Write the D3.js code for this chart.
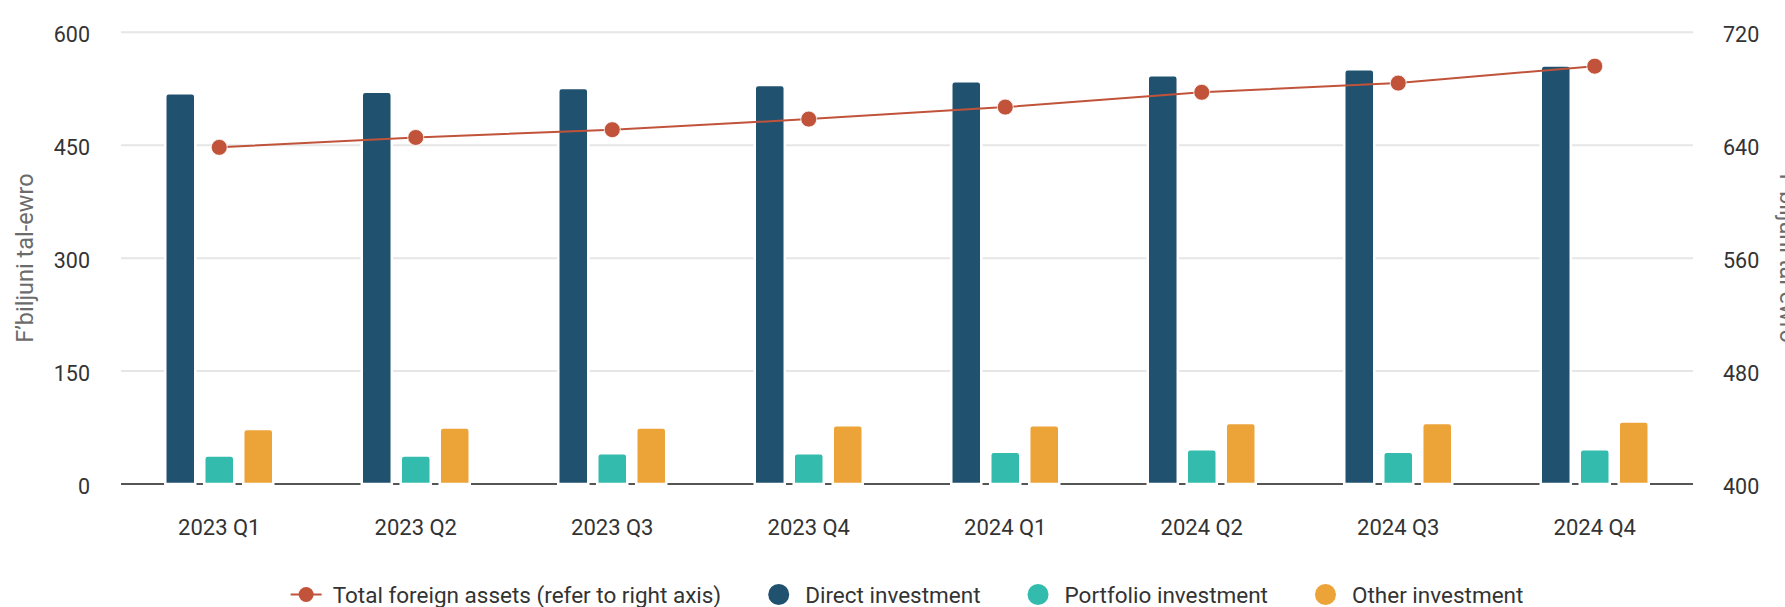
<!DOCTYPE html>
<html>
<head>
<meta charset="utf-8">
<script src="https://cdnjs.cloudflare.com/ajax/libs/d3/7.9.0/d3.min.js"></script>
<style>
  html, body { margin: 0; padding: 0; background: #fff; }
  text { font-family: Roboto, "Noto Sans", sans-serif; }
</style>
</head>
<body>
<div id="chart"></div>
<script>
// values (billions of euro)
const categories = ["2023 Q1", "2023 Q2", "2023 Q3", "2023 Q4", "2024 Q1", "2024 Q2", "2024 Q3", "2024 Q4"];
const directInv = [519, 521, 526, 530, 535, 543, 551, 556];
const portfolioInv = [38, 38, 41, 41, 43, 46, 43, 46];
const otherInv = [73, 75, 75, 78, 78, 81, 81, 83];
const totalAssets = [638.5, 645.5, 651, 658.5, 667, 677.5, 684, 696];

const leftTicks = [0, 150, 300, 450, 600];
const rightTicks = [400, 480, 560, 640, 720];
const yTitle = "F\u2019biljuni tal-ewro";

const barSeries = [
  { name: "Direct investment", values: directInv, color: "#20526f" },
  { name: "Portfolio investment", values: portfolioInv, color: "#33bcad" },
  { name: "Other investment", values: otherInv, color: "#eca338" }
];
const lineSeries = { name: "Total foreign assets (refer to right axis)", values: totalAssets, color: "#c1533a" };

const width = 1785, height = 607;
const plotL = 121, plotR = 1693, plotT = 32.3, plotB = 484;

const svg = d3.select("#chart").append("svg")
  .attr("width", width)
  .attr("height", height);

const x0 = d3.scaleBand().domain(categories).range([plotL, plotR]);
const groupW = 108;
const x1 = d3.scaleBand().domain(barSeries.map(d => d.name)).range([0, groupW]).paddingInner(0.23);
const y = d3.scaleLinear().domain([0, 600]).range([plotB, plotT]);
const yR = d3.scaleLinear().domain([400, 720]).range([plotB, plotT]);

// gridlines
svg.append("g")
  .selectAll("line")
  .data(leftTicks.filter(d => d > 0))
  .join("line")
  .attr("x1", plotL).attr("x2", plotR)
  .attr("y1", d => y(d)).attr("y2", d => y(d))
  .attr("stroke", "#e6e6e6")
  .attr("stroke-width", 2);

// baseline
svg.append("line")
  .attr("x1", plotL).attr("x2", plotR)
  .attr("y1", y(0)).attr("y2", y(0))
  .attr("stroke", "#555")
  .attr("stroke-width", 2);

// left axis labels
const axL = svg.append("g")
  .attr("transform", `translate(${plotL},0)`)
  .call(d3.axisLeft(y).tickValues(leftTicks).tickSize(0).tickPadding(31));
axL.select(".domain").remove();
axL.selectAll("text").attr("font-size", 21.5).attr("fill", "#333").attr("dy", "0.45em");

// right axis labels
const axR = svg.append("g")
  .attr("transform", `translate(${plotR},0)`)
  .call(d3.axisRight(yR).tickValues(rightTicks).tickSize(0).tickPadding(30));
axR.select(".domain").remove();
axR.selectAll("text").attr("font-size", 21.5).attr("fill", "#333").attr("dy", "0.45em");

// x axis labels
const axB = svg.append("g")
  .attr("transform", `translate(0,${plotB})`)
  .call(d3.axisBottom(x0).tickSize(0).tickPadding(35));
axB.select(".domain").remove();
axB.selectAll("text").attr("font-size", 22).attr("fill", "#333");

// axis titles
const midY = (plotT + plotB) / 2;
svg.append("text")
  .attr("transform", `translate(33,${midY}) rotate(-90)`)
  .attr("text-anchor", "middle")
  .attr("font-size", 23.5)
  .attr("fill", "#6b6b6b")
  .text(yTitle);
svg.append("text")
  .attr("transform", `translate(1780,${midY}) rotate(90)`)
  .attr("text-anchor", "middle")
  .attr("font-size", 23.5)
  .attr("fill", "#6b6b6b")
  .text(yTitle);

// bars with rounded top corners
function topRounded(x, yTop, w, h, r) {
  r = Math.min(r, h, w / 2);
  return `M${x},${yTop + h}V${yTop + r}Q${x},${yTop} ${x + r},${yTop}H${x + w - r}Q${x + w},${yTop} ${x + w},${yTop + r}V${yTop + h}Z`;
}

const groups = svg.append("g")
  .selectAll("g")
  .data(categories)
  .join("g")
  .attr("transform", c => `translate(${x0(c) + (x0.bandwidth() - groupW) / 2},0)`);

groups.selectAll("path")
  .data((c, i) => barSeries.map(s => ({ s, v: s.values[i] })))
  .join("path")
  .attr("d", d => topRounded(x1(d.s.name), y(d.v), x1.bandwidth(), y(0) - y(d.v), 3.5))
  .attr("fill", d => d.s.color)
  .attr("stroke", "#fff")
  .attr("stroke-width", 2.5);

// total line on the right axis
const cx = c => x0(c) + x0.bandwidth() / 2;
const line = d3.line()
  .x((d, i) => cx(categories[i]))
  .y(d => yR(d));
svg.append("path")
  .datum(lineSeries.values)
  .attr("d", line)
  .attr("fill", "none")
  .attr("stroke", lineSeries.color)
  .attr("stroke-width", 2);
svg.append("g")
  .selectAll("circle")
  .data(lineSeries.values)
  .join("circle")
  .attr("cx", (d, i) => cx(categories[i]))
  .attr("cy", d => yR(d))
  .attr("r", 8)
  .attr("fill", lineSeries.color)
  .attr("stroke", "#fff")
  .attr("stroke-width", 0.8);

// legend, centred under the plot
const legendY = 594.5;
const legend = svg.append("g");
const items = [
  { name: lineSeries.name, color: lineSeries.color, type: "line" },
  ...barSeries.map(s => ({ name: s.name, color: s.color, type: "dot" }))
];
let cursor = 0;
items.forEach((it, i) => {
  const g = legend.append("g");
  let symW;
  if (it.type === "line") {
    g.append("line")
      .attr("x1", cursor).attr("x2", cursor + 31)
      .attr("y1", legendY).attr("y2", legendY)
      .attr("stroke", it.color).attr("stroke-width", 2);
    g.append("circle")
      .attr("cx", cursor + 15.5).attr("cy", legendY).attr("r", 7.5)
      .attr("fill", it.color);
    symW = 31 + 11;
  } else {
    g.append("circle")
      .attr("cx", cursor + 10.5).attr("cy", legendY).attr("r", 10.5)
      .attr("fill", it.color);
    symW = 21 + 16;
  }
  const t = g.append("text")
    .attr("x", cursor + symW)
    .attr("y", legendY)
    .attr("dy", "0.36em")
    .attr("font-size", 22.5)
    .attr("fill", "#333")
    .text(it.name);
  cursor += symW + t.node().getComputedTextLength() + 47;
});
const legendW = cursor - 47;
legend.attr("transform", `translate(${(plotL + plotR) / 2 - legendW / 2},0)`);
</script>
</body>
</html>
